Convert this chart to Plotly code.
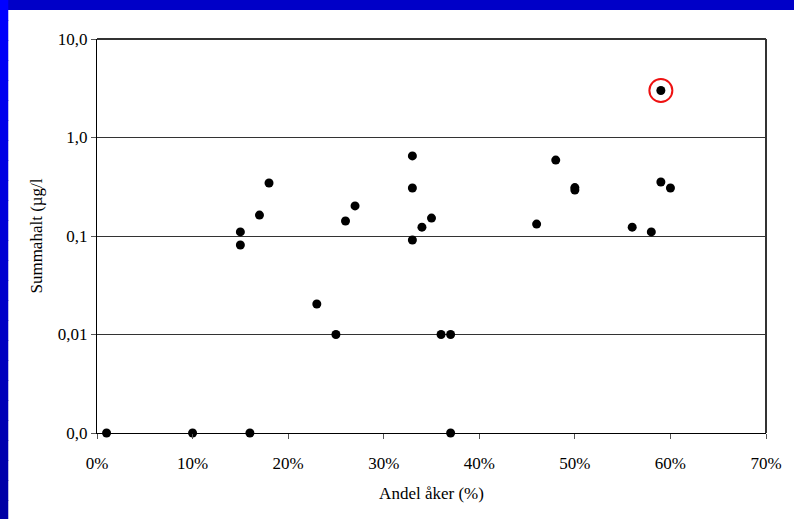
import plotly.graph_objects as go

# Data (Andel åker in %, Summahalt in µg/l; 0.001 plotted as "0,0")
andel_aker = [1, 10, 16, 15, 15, 17, 18, 23, 25, 26, 27, 33, 33, 33, 34, 35, 36, 37, 37,
              46, 48, 50, 50, 56, 58, 59, 59, 60]
summahalt = [0.001, 0.001, 0.001, 0.11, 0.081, 0.163, 0.345, 0.0204, 0.01, 0.142, 0.202,
             0.65, 0.307, 0.091, 0.123, 0.152, 0.01, 0.01, 0.001,
             0.132, 0.59, 0.31, 0.293, 0.123, 0.11, 3.0, 0.353, 0.307]
highlight_x = [59]
highlight_y = [3.0]

x_tickvals = [0, 10, 20, 30, 40, 50, 60, 70]
x_ticktext = ["0%", "10%", "20%", "30%", "40%", "50%", "60%", "70%"]
y_tickvals = [0.001, 0.01, 0.1, 1, 10]
y_ticktext = ["0,0", "0,01", "0,1", "1,0", "10,0"]

FONT = "Liberation Serif"
FS = 17

fig = go.Figure()
fig.add_trace(go.Scatter(
    x=andel_aker, y=summahalt, mode="markers",
    marker=dict(color="black", size=9),
    cliponaxis=False, showlegend=False, hoverinfo="x+y"))
fig.add_trace(go.Scatter(
    x=highlight_x, y=highlight_y, mode="markers",
    marker=dict(symbol="circle-open", size=23, color="#ee1111", line=dict(width=2)),
    cliponaxis=False, showlegend=False, hoverinfo="skip"))

# Plot-area geometry (pixels) for decorative frame
L, R, T, B = 97, 768, 39, 433
W, H = R - L, B - T
def px(x):
    return (x - L) / W
def py(y):
    return (B - y) / H

shapes = []
# top blue strip
shapes.append(dict(type="rect", xref="paper", yref="paper", layer="below",
                   x0=px(0), x1=px(800), y0=py(10), y1=py(-2),
                   fillcolor="#0000c8", line=dict(width=0)))
# left gradient blue strip
n = 26
for i in range(n):
    y0 = i * 520 / n
    y1 = (i + 1) * 520 / n + 1
    t = i / (n - 1)
    b = int(255 - t * (255 - 165))
    shapes.append(dict(type="rect", xref="paper", yref="paper", layer="below",
                       x0=px(-2), x1=px(8), y0=py(y1), y1=py(y0),
                       fillcolor=f"rgb(0,0,{b})", line=dict(width=0)))
# right border of plot area
shapes.append(dict(type="line", xref="paper", yref="paper",
                   x0=1, x1=1, y0=0, y1=1, line=dict(color="#333333", width=2)))
# top border of plot area
shapes.append(dict(type="line", xref="paper", yref="paper",
                   x0=0, x1=1, y0=1, y1=1, line=dict(color="#333333", width=2)))

fig.update_layout(
    width=794, height=519,
    margin=dict(l=L, r=794 - R, t=T, b=519 - B),
    paper_bgcolor="white", plot_bgcolor="white",
    font=dict(family=FONT, size=FS, color="black"),
    shapes=shapes,
    xaxis=dict(
        range=[0, 70], tickvals=x_tickvals, ticktext=x_ticktext,
        showgrid=False, zeroline=False, showline=True, linecolor="black", linewidth=1,
        ticks="outside", ticklen=5, tickcolor="#555555", ticklabelstandoff=10,
        tickfont=dict(family=FONT, size=FS),
        title=dict(text="Andel åker (%)", font=dict(family=FONT, size=FS), standoff=14),
    ),
    yaxis=dict(
        type="log", range=[-3, 1], tickvals=y_tickvals, ticktext=y_ticktext,
        showgrid=True, gridcolor="#333333", gridwidth=1, zeroline=False,
        showline=True, linecolor="black", linewidth=1,
        ticks="outside", ticklen=5, tickcolor="#555555",
        tickfont=dict(family=FONT, size=FS),
        title=dict(text="Summahalt (µg/l", font=dict(family=FONT, size=FS), standoff=10),
    ),
)

fig.write_html("out.html", config={"displayModeBar": False},
               post_script="document.body.style.margin='0px';document.body.style.padding='0px';")
